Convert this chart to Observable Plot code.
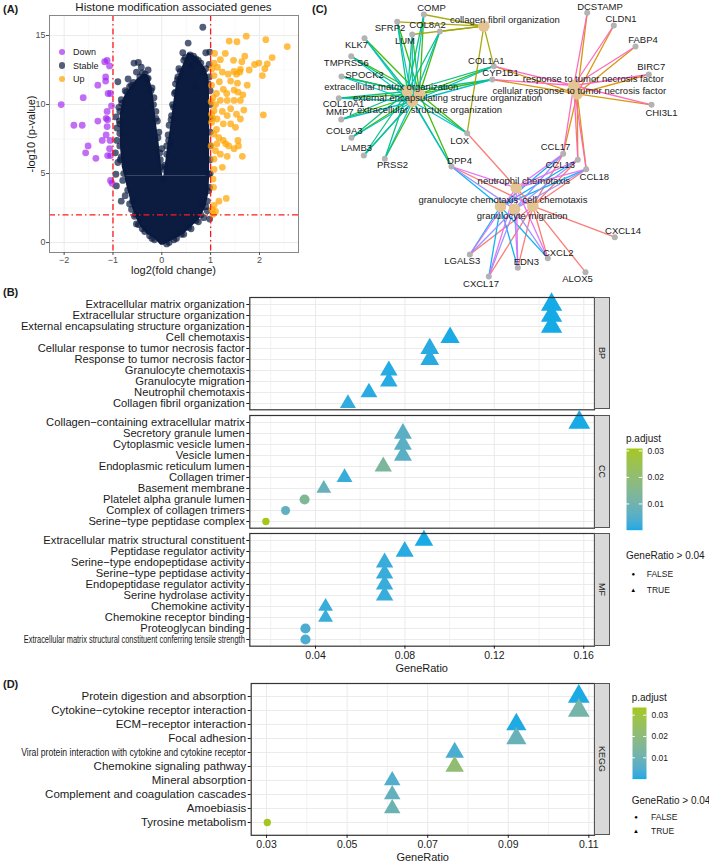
<!DOCTYPE html>
<html><head><meta charset="utf-8">
<script src="https://cdn.jsdelivr.net/npm/d3@7"></script>
<script src="https://cdn.jsdelivr.net/npm/@observablehq/plot@0.6"></script>
<style>
body{margin:0;background:#fff;}
#root{position:relative;width:709px;height:864px;overflow:hidden;background:#fff;font-family:"Liberation Sans",Arial,sans-serif;}
</style></head><body><div id="root"></div><script>
// ---------------- Panel A data ----------------
const downPoints = [[-2.06,10.0],[-1.61,10.5],[-1.80,8.5],[-1.63,8.5],[-1.31,8.8],[-1.31,11.4],[-1.51,7.0],[-1.56,6.5],[-1.35,6.1],[-1.22,7.4],[-1.14,7.8],[-1.12,8.4],[-1.14,9.0],[-1.12,9.5],[-1.15,12.0],[-1.15,11.7],[-1.17,13.1],[-1.12,13.2],[-1.07,12.8],[-1.10,10.8],[-1.05,10.8],[-1.11,6.3],[-1.07,6.8],[-1.06,7.4],[-1.03,9.9],[-1.05,4.5],[-1.02,4.3],[-1.11,8.9],[-1.05,6.3]];
const upPoints = [[1.73,14.95],[2.13,14.7],[2.57,14.2],[1.38,14.6],[1.54,14.55],[1.08,13.7],[1.30,13.7],[1.20,13.25],[1.47,13.2],[1.70,13.5],[1.64,13.1],[2.26,13.4],[1.90,12.9],[1.99,13.0],[2.16,12.95],[2.11,12.6],[1.61,12.55],[1.79,12.5],[1.48,12.4],[1.53,12.2],[1.60,12.35],[2.06,12.1],[1.14,12.7],[1.07,13.0],[1.24,12.35],[1.36,12.2],[1.07,12.1],[1.18,11.65],[1.41,11.7],[1.55,11.55],[1.75,11.4],[1.26,11.1],[1.33,10.8],[1.12,10.8],[1.05,10.5],[1.48,11.05],[1.56,10.9],[1.66,10.7],[1.34,10.3],[1.48,10.3],[1.61,10.3],[1.20,10.3],[1.10,10.0],[1.41,9.7],[1.68,9.6],[1.24,9.5],[1.07,9.55],[1.04,9.0],[1.53,9.3],[1.13,8.95],[1.34,9.2],[2.08,9.25],[1.26,8.6],[1.41,8.6],[1.51,8.35],[1.61,8.95],[1.12,8.2],[1.07,7.85],[1.17,7.6],[1.26,7.4],[1.13,7.15],[1.31,7.15],[1.37,7.0],[1.56,7.4],[1.57,7.0],[1.48,6.8],[1.10,6.65],[1.20,6.4],[1.34,6.25],[1.65,6.25],[1.07,6.05],[1.24,5.45],[1.07,5.3],[1.05,4.6],[1.06,4.0],[1.32,3.2],[1.17,3.0],[1.07,2.7],[1.03,2.4],[1.10,2.25],[1.05,2.05],[1.02,9.3],[1.01,10.2],[1.02,11.4],[1.03,12.6],[1.02,8.7],[1.01,7.0]];
const stablePoints = [[-0.57,13.0],[-0.48,13.05],[-0.52,12.35],[-0.34,12.2],[-0.30,11.85],[-0.69,11.85],[-0.90,11.65],[-0.62,11.4],[-0.75,11.0],[-0.83,10.35],[-0.88,9.8],[-0.94,9.1],[-0.92,8.3],[-0.92,7.4],[-0.95,6.5],[-0.90,5.8],[-0.94,4.95],[-0.93,4.1],[-0.83,3.0],[-0.75,3.4],[-0.62,2.4],[-0.54,2.05],[-0.52,1.35],[-0.45,1.8],[-0.40,1.0],[-0.28,12.5],[-0.42,12.7],[-0.20,11.2],[-0.12,9.5],[-0.06,8.0],[0.0,6.8],[-0.03,6.0],[0.18,7.15],[0.05,5.3],[0.02,4.6],[0.84,15.6],[0.54,14.45],[0.43,13.75],[0.90,13.75],[0.98,13.8],[0.65,13.5],[0.75,13.2],[0.35,12.6],[0.28,11.5],[0.22,10.0],[0.15,8.5],[0.10,7.0],[0.68,11.3],[0.97,12.9],[0.97,12.0],[0.99,11.0],[0.99,10.0],[0.99,9.0],[0.99,8.0],[0.99,7.0],[0.99,6.0],[0.99,5.0],[0.96,4.95],[0.98,4.0],[0.96,3.75],[0.93,3.0],[0.83,2.8],[0.93,2.3],[0.86,1.8],[0.98,1.7],[0.75,1.5],[0.60,1.0],[0.45,0.6],[0.30,0.3],[0.15,0.0],[-0.15,0.2],[-0.25,0.5],[-0.80,4.5],[-0.85,6.0],[-0.87,8.8],[-0.70,3.8],[-0.60,3.0],[-0.66,11.3],[-0.40,12.3],[-0.16,10.5],[-0.09,8.8],[0.13,7.8],[0.20,9.2],[0.26,10.8],[0.33,12.0],[0.45,13.2],[0.85,12.4],[0.60,12.8],
  [-0.78,5.0],[-0.83,6.2],[-0.86,7.0],[-0.86,7.9],[-0.86,8.6],[-0.86,9.5],[-0.82,10.1],[-0.72,10.9],[-0.58,11.6],[-0.45,12.0],[-0.66,2.8],[-0.56,1.9],[-0.48,1.3],[-0.35,0.8],[-0.20,0.3],
  [-0.28,11.9],[-0.22,11.0],[-0.17,10.0],[-0.12,9.0],[-0.08,7.6],[-0.04,6.5],[0.0,5.5],
  [0.06,5.6],[0.10,6.4],[0.14,7.4],[0.19,8.9],[0.24,9.8],[0.28,10.9],[0.32,11.8],[0.38,12.4],
  [0.48,13.4],[0.58,13.6],[0.70,13.3],[0.80,13.0],[0.90,12.6],[0.95,11.5],
  [0.90,2.6],[0.80,2.0],[0.70,1.6],[0.55,1.1],[0.40,0.6],[0.25,0.2],[0.10,-0.1]];
// dense stable cloud outline
const coreLowY  = [-0.2, 0.3, 0.6, 1.1, 1.6, 2.5, 3.5, 4.0, 4.8];
const coreLowX1 = [-0.02,-0.15,-0.3,-0.42,-0.5,-0.6,-0.67,-0.71,-0.76];
const coreLowX2 = [0.04, 0.3, 0.45, 0.6, 0.75, 0.9, 0.96, 0.97, 0.98];
const coreLeftY  = [4.8, 5.45, 6.65, 7.4, 8.35, 9.3, 10.3, 10.6, 11.25, 11.85, 12.2];
const coreLeftX1 = [-0.76,-0.81,-0.84,-0.85,-0.85,-0.85,-0.8,-0.76,-0.64,-0.5,-0.37];
const coreLeftX2 = [0.02, 0.0,-0.04,-0.06,-0.1,-0.13,-0.16,-0.17,-0.2,-0.25,-0.3];
const coreRightY  = [4.8, 5.0, 6.65, 8.35, 10.3, 11.7, 12.0, 12.7, 13.4, 13.7];
const coreRightX1 = [0.04, 0.05, 0.11, 0.18, 0.25, 0.31, 0.34, 0.42, 0.5, 0.53];
const coreRightX2 = [0.98, 0.98, 0.98, 0.98, 0.98, 0.97, 0.96, 0.88, 0.72, 0.6];
const aTicksX = [-2,-1,0,1,2], aMinorX = [-1.5,-0.5,0.5,1.5,2.5];
const aTicksY = [0,5,10,15], aMinorY = [2.5,7.5,12.5];
const fcCut = [-1,1], pCut = [2];

// ---------------- Panel C data ----------------
const geneNames = ["COMP","SFRP2","COL8A2","LUM","KLK7","TMPRSS6","SPOCK2","COL10A1","MMP7","COL9A3","LAMB3","PRSS2","COL1A1","CYP1B1","LOX","DPP4","DCSTAMP","CLDN1","FABP4","BIRC7","CHI3L1","CCL17","CCL13","CCL18","CXCL14","CXCL2","ALOX5","EDN3","LGALS3","CXCL17"];
const geneX = [423.3,396.7,439.3,411.7,364,350.7,341,338.3,340.7,351,363.3,384.3,493.3,491.7,466.7,451,586.7,613.3,635,648.3,651,562.7,577.3,585.7,614.3,547.3,585,517.3,469.3,488.3];
const geneY = [14,21.3,31,34,37.7,55.7,76,97.7,119,137.3,155,158.3,65.7,79,132.7,166,12.3,25,46,74,104.3,153.3,159.3,168.7,236.7,257.7,271.7,267.3,254,276];
const geneLabelX = [431,389.5,427,404.5,356,345.8,364,343,339.3,343.8,356,392,485.8,500,459.2,459,599.5,620.5,642.5,650.7,661,555,559.7,593.8,622.5,557.7,577,525.8,461.7,480.5];
const geneLabelY = [7.3,27.3,24,40.7,44,62.3,74,103.3,111,130.7,147.3,164.7,60,72.7,140,160,6,18.3,39.3,66.7,112.3,146.7,164.3,176,230.7,252,278.3,261,260.7,283.3];
const termNames = ["cell chemotaxis","cellular response to tumor necrosis factor","collagen fibril organization","external encapsulating structure organization","extracellular matrix organization","extracellular structure organization","granulocyte chemotaxis","granulocyte migration","neutrophil chemotaxis","response to tumor necrosis factor"];
const termColors = ["#F8766D","#D89000","#A3A500","#39B600","#00BF7D","#00BFC4","#00B0F6","#9590FF","#E76BF3","#FF62BC"];
const termX = [532.3,576.7,483.3,419,407,412,500,514,515.7,573.3];
const termY = [205.7,93.3,25.7,93.5,91,101,206,208.7,187.3,85];
const termLabelX = [554.5,578.8,504.3,447,390.8,429,467.8,521.7,523.3,592.8];
const termLabelY = [199,90,19.3,97.7,86,109.3,199,215.7,180.7,78.3];
const ecmGenes = ["COMP","SFRP2","COL8A2","LUM","KLK7","TMPRSS6","SPOCK2","COL10A1","MMP7","COL9A3","LAMB3","PRSS2","COL1A1","CYP1B1","LOX","DPP4"];
const collagenGenes = ["COMP","SFRP2","COL8A2","LUM","COL1A1","LOX"];
const tnfGenes = ["DCSTAMP","CLDN1","FABP4","BIRC7","CHI3L1","COL1A1","CYP1B1","CCL17","CCL13","CCL18"];
const chemoGenes = ["CCL17","CCL13","CCL18","DPP4","LGALS3","CXCL17","EDN3","CXCL2"];
const cellChemoExtra = ["LOX","CXCL14","ALOX5"];

// ---------------- Panel B data ----------------
const bpTerms = ["Extracellular matrix organization","Extracellular structure organization","External encapsulating structure organization","Cell chemotaxis","Cellular response to tumor necrosis factor","Response to tumor necrosis factor","Granulocyte chemotaxis","Granulocyte migration","Neutrophil chemotaxis","Collagen fibril organization"];
const bpRatio = [0.1456,0.1456,0.1456,0.1002,0.0911,0.0911,0.0728,0.0728,0.0639,0.0545];
const bpP = [0.0001,0.0001,0.0001,0.0003,0.001,0.001,0.0008,0.0008,0.001,0.0015];
const ccTerms = ["Collagen\u2212containing extracellular matrix","Secretory granule lumen","Cytoplasmic vesicle lumen","Vesicle lumen","Endoplasmic reticulum lumen","Collagen trimer","Basement membrane","Platelet alpha granule lumen","Complex of collagen trimers","Serine\u2212type peptidase complex"];
const ccRatio = [0.158,0.0791,0.0791,0.0791,0.0703,0.053,0.0437,0.0351,0.0266,0.0178];
const ccP = [0.0002,0.006,0.006,0.006,0.013,0.002,0.008,0.014,0.007,0.0309];
const mfTerms = ["Extracellular matrix structural constituent","Peptidase regulator activity","Serine\u2212type endopeptidase activity","Serine\u2212type peptidase activity","Endopeptidase regulator activity","Serine hydrolase activity","Chemokine activity","Chemokine receptor binding","Proteoglycan binding","Extracellular matrix structural constituent conferring tensile strength"];
const mfRatio = [0.0885,0.0799,0.0709,0.0709,0.0709,0.0709,0.0445,0.0445,0.0355,0.0355];
const mfP = [0.0003,0.001,0.002,0.002,0.002,0.002,0.002,0.002,0.004,0.004];
const bTicks = [0.04,0.08,0.12,0.16], bMinor = [0.02,0.06,0.10,0.14];

// ---------------- Panel D data ----------------
const keggTerms = ["Protein digestion and absorption","Cytokine\u2212cytokine receptor interaction","ECM\u2212receptor interaction","Focal adhesion","Viral protein interaction with cytokine and cytokine receptor","Chemokine signaling pathway","Mineral absorption","Complement and coagulation cascades","Amoebiasis","Tyrosine metabolism"];
const keggRatio = [0.1075,0.1075,0.092,0.092,0.0767,0.0767,0.0612,0.0612,0.0612,0.0302];
const keggP = [0.0003,0.012,0.0005,0.009,0.004,0.022,0.005,0.008,0.01,0.033];
const dTicks = [0.03,0.05,0.07,0.09,0.11], dMinor = [0.04,0.06,0.08,0.10];
const legendTicks = [0.01,0.02,0.03];

// ---------------- helpers ----------------
const root = document.getElementById('root');
const FONT = '"Liberation Sans", Arial, sans-serif';
const LOWC = "#13aae6", HIGHC = "#a5c816";
function place(el, left, top){ el.style.position='absolute'; el.style.left=left+'px'; el.style.top=top+'px'; root.appendChild(el); return el; }
function label(s, x, y, o={}) {
  const d=document.createElement('div'); d.textContent=s;
  const a=o.anchor||'start';
  const tx = a==='middle'?'-50%':a==='end'?'-100%':'0';
  d.style.cssText=`position:absolute;left:${x}px;top:${y}px;white-space:nowrap;line-height:1;font-size:${o.size||11}px;color:${o.color||'#1a1a1a'};font-weight:${o.weight||'normal'};font-family:${FONT};transform:translate(${tx},-50%)${o.rotate?` rotate(${o.rotate}deg)`:''};`;
  root.appendChild(d); return d;
}
function strip(text, top, h) {
  const d=document.createElement('div');
  d.style.cssText=`position:absolute;left:594px;top:${top}px;width:16px;height:${h}px;box-sizing:border-box;background:#d9d9d9;border:1px solid #555;display:flex;align-items:center;justify-content:center;font-family:${FONT};font-size:9px;color:#1a1a1a;writing-mode:vertical-rl;`;
  d.textContent=text; root.appendChild(d);
}
function condense(svg, name, len) {
  d3.select(svg).selectAll('text').filter(function(){return this.textContent===name;})
    .attr('textLength', len).attr('lengthAdjust','spacingAndGlyphs');
}
const style = {fontFamily: FONT, background: 'transparent', overflow: 'visible', color: '#1a1a1a'};

// ---------------- Panel A ----------------
const pt = a => ({x:a[0], y:a[1]});
const aPlot = Plot.plot({
  width:300, height:285, marginLeft:49, marginRight:2, marginTop:15, marginBottom:33,
  style,
  x:{domain:[-2.3,2.8], axis:null}, y:{domain:[-0.72,16.45], axis:null},
  marks:[
    Plot.ruleX(aMinorX,{stroke:'#f3f3f3',strokeWidth:0.6}),
    Plot.ruleY(aMinorY,{stroke:'#f3f3f3',strokeWidth:0.6}),
    Plot.ruleX(aTicksX,{stroke:'#ebebeb',strokeWidth:1}),
    Plot.ruleY(aTicksY,{stroke:'#ebebeb',strokeWidth:1}),
    Plot.areaX(coreLowY,{y:coreLowY,x1:coreLowX1,x2:coreLowX2,fill:'#0c1c40'}),
    Plot.areaX(coreLeftY,{y:coreLeftY,x1:coreLeftX1,x2:coreLeftX2,fill:'#0c1c40'}),
    Plot.areaX(coreRightY,{y:coreRightY,x1:coreRightX1,x2:coreRightX2,fill:'#0c1c40'}),
    Plot.dot(stablePoints.map(pt),{x:'x',y:'y',r:3.4,fill:'#0a1a3e',fillOpacity:0.7}),
    Plot.dot(downPoints.map(pt),{x:'x',y:'y',r:3.4,fill:'#a020f0',fillOpacity:0.65}),
    Plot.dot(upPoints.map(pt),{x:'x',y:'y',r:3.4,fill:'#ffa500',fillOpacity:0.72}),
    Plot.ruleX(fcCut,{stroke:'#ff1a1a',strokeWidth:1.3,strokeDasharray:'6,3,1.5,3'}),
    Plot.ruleY(pCut,{stroke:'#ff1a1a',strokeWidth:1.3,strokeDasharray:'6,3,1.5,3'}),
    Plot.frame({stroke:'#888',strokeWidth:1}),
    Plot.axisX({ticks:aTicksX,tickSize:3,tickPadding:1,fontSize:9,color:'#4d4d4d',label:null,tickFormat:d=>d<0?'\u2212'+Math.abs(d):String(d)}),
    Plot.axisY({ticks:aTicksY,tickSize:3,tickPadding:1,fontSize:9,color:'#4d4d4d',label:null})
  ]
});
place(aPlot,0,0);
label('(A)',3,9,{weight:'bold',size:11});
label('Histone modification associated genes',173.5,7.5,{anchor:'middle',size:11.5});
label('log2(fold change)',173.5,270,{anchor:'middle',size:11});
label('-log10 (p-value)',31,133.5,{anchor:'middle',size:11,rotate:-90});
[['Down','#a020f0',0.65,52],['Stable','#0a1a3e',0.7,65.5],['Up','#ffa500',0.72,79]].forEach(([t,c,o,y])=>{
  const d=document.createElement('div');
  d.style.cssText=`position:absolute;left:${62-3.4}px;top:${y-3.4}px;width:6.8px;height:6.8px;border-radius:50%;background:${c};opacity:${o};`;
  root.appendChild(d);
  label(t,73,y,{size:9});
});

// ---------------- Panel C ----------------
const geneRows = geneNames.map((n,i)=>({name:n,x:geneX[i],y:geneY[i],lx:geneLabelX[i],ly:geneLabelY[i]}));
const termRows = termNames.map((n,i)=>({name:n,x:termX[i],y:termY[i],lx:termLabelX[i],ly:termLabelY[i]}));
const gIdx = n => geneNames.indexOf(n), tIdx = n => termNames.indexOf(n);
const edges = [];
function addEdges(term, genes){ genes.forEach(g=>edges.push({term, gx:geneX[gIdx(g)], gy:geneY[gIdx(g)], tx:termX[tIdx(term)], ty:termY[tIdx(term)]})); }
["external encapsulating structure organization","extracellular matrix organization","extracellular structure organization"].forEach(t=>addEdges(t,ecmGenes));
addEdges("collagen fibril organization",collagenGenes);
["cellular response to tumor necrosis factor","response to tumor necrosis factor"].forEach(t=>addEdges(t,tnfGenes));
["cell chemotaxis","granulocyte chemotaxis","granulocyte migration","neutrophil chemotaxis"].forEach(t=>addEdges(t,chemoGenes));
addEdges("cell chemotaxis",cellChemoExtra);
const cPlot = Plot.plot({
  width:389, height:290, marginLeft:0, marginRight:0, marginTop:0, marginBottom:0, style,
  x:{domain:[320,709], range:[0,389], axis:null},
  y:{domain:[0,290], range:[0,290], axis:null},
  color:{domain:termNames, range:termColors},
  marks:[
    Plot.link(edges,{x1:'gx',y1:'gy',x2:'tx',y2:'ty',stroke:'term',strokeWidth:1.3,strokeOpacity:0.95}),
    Plot.dot(geneRows,{x:'x',y:'y',r:3,fill:'#B3B3B3'}),
    Plot.dot(termRows,{x:'x',y:'y',r:5.8,fill:'#E5C494'}),
    Plot.text(geneRows,{x:'lx',y:'ly',text:'name',fontSize:9.5,fill:'#1a1a1a'}),
    Plot.text(termRows,{x:'lx',y:'ly',text:'name',fontSize:9.5,fill:'#1a1a1a'})
  ]
});
place(cPlot,320,0);
label('(C)',312,9,{weight:'bold',size:11});

// ---------------- dot panels ----------------
function dotPanel(cfg){
  const data = cfg.terms.map((t,i)=>({term:t, ratio:cfg.ratio[i], p:cfg.p[i], big:cfg.ratio[i]>0.04}));
  const plotH = cfg.bottom - cfg.top;
  const marks = [
    Plot.ruleX(cfg.minor,{stroke:'#ededed',strokeWidth:0.7}),
    Plot.ruleX(cfg.ticks,{stroke:'#ebebeb',strokeWidth:1}),
    Plot.ruleY(cfg.terms,{stroke:'#ebebeb',strokeWidth:1}),
    Plot.dot(data,{x:'ratio',y:'term',r:'ratio',fill:'p',symbol:'big'}),
    Plot.frame({stroke:'#333',strokeWidth:1.2}),
    Plot.axisY({tickSize:3,tickPadding:2,fontSize:cfg.fontSize,color:'#1a1a1a',label:null})
  ];
  if (cfg.showX) marks.push(Plot.axisX({ticks:cfg.ticks,tickSize:3,tickPadding:2,fontSize:10.5,color:'#1a1a1a',label:null,tickFormat:d3.format('.2f')}));
  const svg = Plot.plot({
    width:600, height:plotH+cfg.mt+cfg.mb,
    marginLeft:cfg.left, marginRight:6, marginTop:cfg.mt, marginBottom:cfg.mb, style,
    x:{domain:cfg.xDomain, axis:null},
    y:{type:'point', domain:cfg.terms, padding:0.6, axis:null},
    r:{type:'log', domain:cfg.rDomain, range:[3.7,8.05]},
    color:{type:'linear', domain:cfg.cDomain, range:[LOWC,HIGHC], interpolate:'lab', clamp:true},
    symbol:{domain:[false,true], range:['circle','triangle']},
    marks
  });
  place(svg,0,cfg.top-cfg.mt);
  return svg;
}
function colorbar(left, top, w, h, domain, labelX){
  const W = labelX-left+30;
  const svg = Plot.plot({
    width:W, height:h, marginLeft:0, marginRight:W-w, marginTop:0, marginBottom:0, style,
    x:{domain:[0,1], axis:null}, y:{domain, axis:null},
    color:{type:'linear', domain, range:[LOWC,HIGHC], interpolate:'lab'},
    marks:[
      Plot.raster({x1:0,x2:1,y1:domain[0],y2:domain[1],width:1,height:120,fill:(x,y)=>y,imageRendering:'auto'}),
      Plot.ruleY(legendTicks,{x1:0,x2:0.2,stroke:'white',strokeWidth:1}),
      Plot.ruleY(legendTicks,{x1:0.8,x2:1,stroke:'white',strokeWidth:1}),
      Plot.axisY(legendTicks,{anchor:'right',tickSize:0,tickPadding:labelX-left-w,fontSize:8.5,color:'#1a1a1a',label:null,tickFormat:d3.format('.2f')})
    ]
  });
  place(svg,left,top);
}
function shapeLegend(x, titleY, falseY, trueY, symX, textX){
  label('GeneRatio > 0.04',x,titleY,{size:10});
  label('\u25CF',symX,falseY,{size:6,anchor:'middle',color:'#000'});
  label('FALSE',textX,falseY,{size:8.5});
  label('\u25B2',symX,trueY,{size:6,anchor:'middle',color:'#000'});
  label('TRUE',textX,trueY,{size:8.5});
}

// ---------------- Panel B ----------------
label('(B)',3,292.3,{weight:'bold',size:11});
const bCommon = {xDomain:[0.0106,0.1648], ticks:bTicks, minor:bMinor, rDomain:[0.0178,0.158], cDomain:[0.0001,0.0309], left:249.3, fontSize:11.2};
dotPanel({...bCommon, terms:bpTerms, ratio:bpRatio, p:bpP, top:296.7, bottom:409, mt:10, mb:10});
dotPanel({...bCommon, terms:ccTerms, ratio:ccRatio, p:ccP, top:415, bottom:527.7, mt:10, mb:10});
const mfSvg = dotPanel({...bCommon, terms:mfTerms, ratio:mfRatio, p:mfP, top:533.3, bottom:646, mt:10, mb:30, showX:true});
condense(mfSvg, "Extracellular matrix structural constituent conferring tensile strength", 221);
strip('BP',296.7,112.3); strip('CC',415,112.7); strip('MF',533.3,112.7);
label('GeneRatio',421.7,668,{anchor:'middle',size:11});
label('p.adjust',626,439,{size:10});
colorbar(625.7,448.3,16,81.7,[0.0001,0.0309],646.7);
shapeLegend(626,555.7,573.7,590,633.3,646.7);

// ---------------- Panel D ----------------
label('(D)',3,684,{weight:'bold',size:11});
const dSvg = dotPanel({terms:keggTerms, ratio:keggRatio, p:keggP, xDomain:[0.0262,0.1114], ticks:dTicks, minor:dMinor, rDomain:[0.0302,0.1075], cDomain:[0,0.0336], left:250.7, fontSize:11.5, top:682.8, bottom:834.6, mt:10, mb:29, showX:true});
condense(dSvg, "Viral protein interaction with cytokine and cytokine receptor", 225);
strip('KEGG',682.8,151.8);
label('GeneRatio',422.7,856.7,{anchor:'middle',size:11});
label('p.adjust',631.7,698.3,{size:10});
colorbar(632,706.7,14,71.6,[0,0.0336],651);
shapeLegend(631.7,801,817,831.3,636,651);
</script></body></html>
